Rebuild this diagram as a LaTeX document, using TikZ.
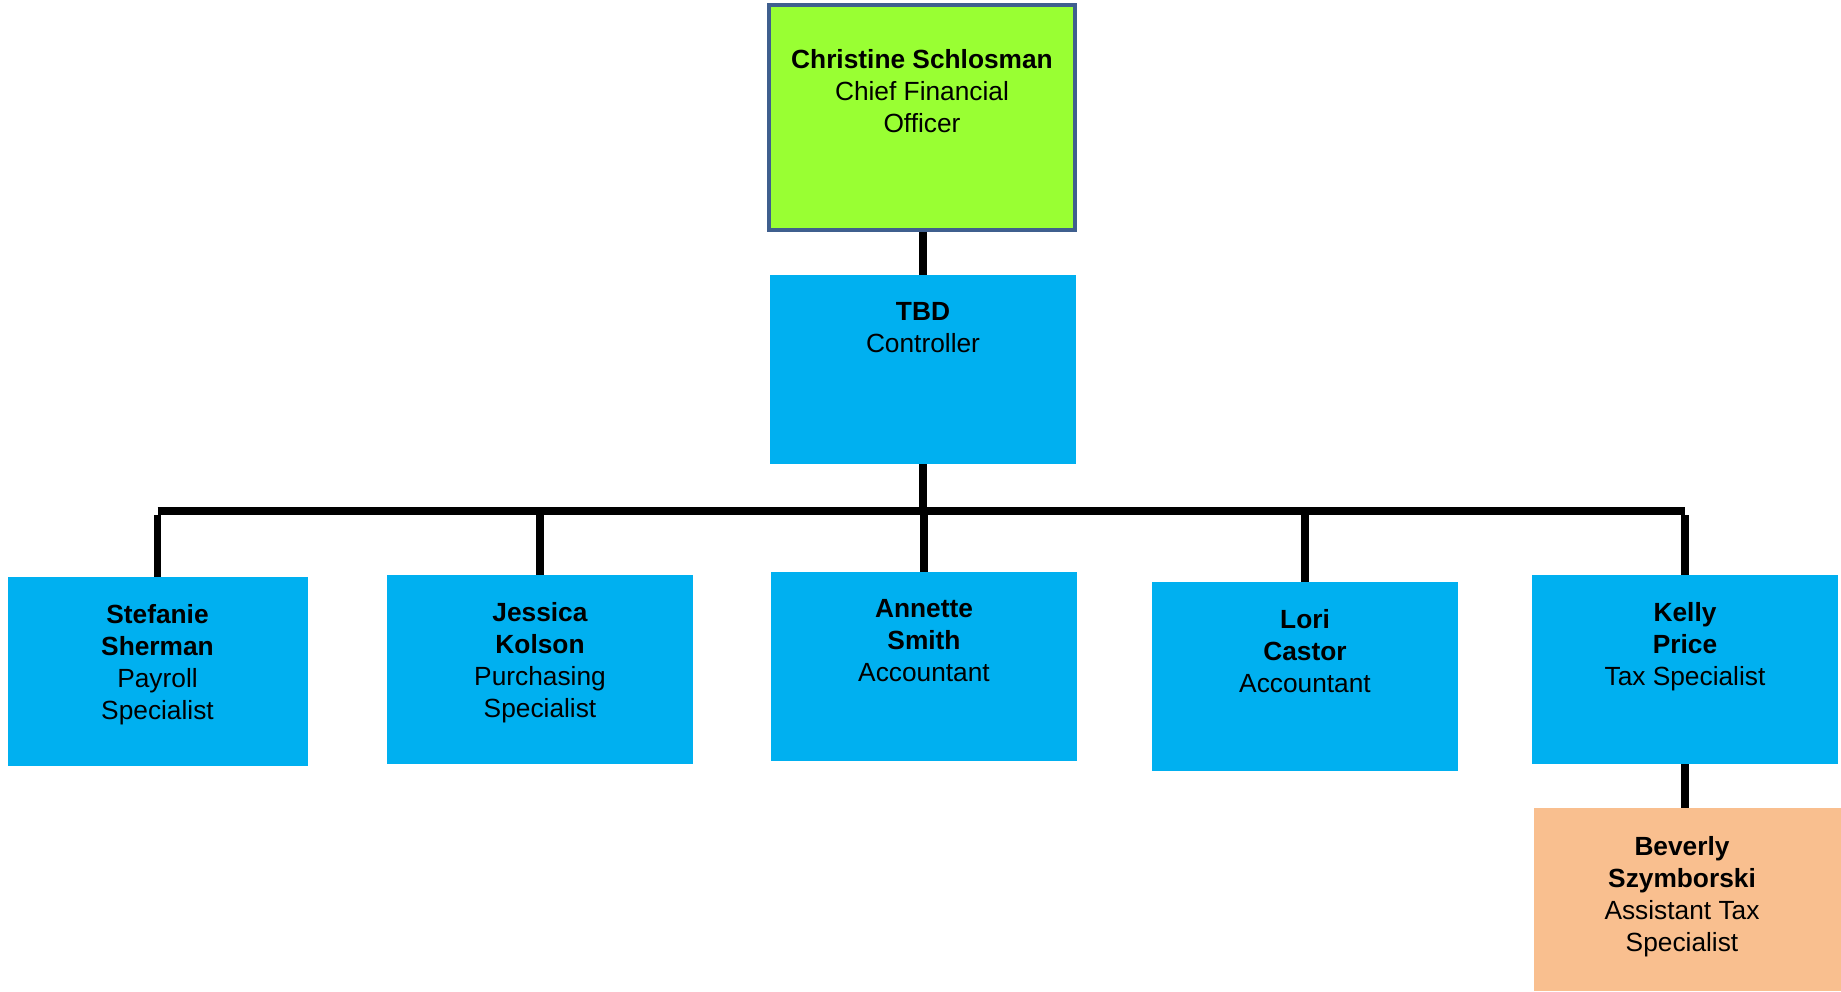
\documentclass[tikz,border=0pt]{standalone}
\usepackage{fontspec}
\setmainfont{Liberation Sans}
\definecolor{cfogreen}{HTML}{99FF33}
\definecolor{cfoedge}{HTML}{3F5F8E}
\definecolor{staffblue}{HTML}{00B0F0}
\definecolor{asstorange}{HTML}{F9BF8F}
\begin{document}
\begin{tikzpicture}[x=1pt,y=-1pt,
  box/.style={rectangle,inner sep=0pt,outer sep=0pt,minimum width=306pt,minimum height=189pt,fill=staffblue},
  txt/.style={anchor=north,inner sep=0pt,outer sep=0pt,align=center,font={\fontsize{26.3pt}{32pt}\selectfont}},
  conn/.style={line width=7.5pt,black},
  busline/.style={line width=8pt,black}]
\useasboundingbox (0,0) rectangle (1841,991);
% boxes
\node[box,fill=cfogreen,draw=cfoedge,line width=4pt,minimum height=225pt] (cfo) at (922,117.5) {};
\node[box] (tbd) at (923,369.5) {};
\node[box,minimum width=300pt] (stef) at (157.5,671.5) {};
\node[box] (jess) at (540,669.5) {};
\node[box] (ann) at (924,666.5) {};
\node[box] (lori) at (1305,676.5) {};
\node[box] (kelly) at (1685,669.5) {};
\node[box,fill=asstorange,minimum width=307pt,minimum height=183pt] (bev) at (1687.5,899.5) {};
% texts
\node[txt] (cfo-t) at ([yshift=-44pt]cfo.north) {\textbf{Christine Schlosman}\\Chief Financial\\Officer};
\node[txt] (tbd-t) at ([yshift=-27pt]tbd.north) {\textbf{TBD}\\Controller};
\node[txt] (stef-t) at ([yshift=-27pt]stef.north) {\textbf{Stefanie}\\\textbf{Sherman}\\Payroll\\Specialist};
\node[txt] (jess-t) at ([yshift=-27pt]jess.north) {\textbf{Jessica}\\\textbf{Kolson}\\Purchasing\\Specialist};
\node[txt] (ann-t) at ([yshift=-27pt]ann.north) {\textbf{Annette}\\\textbf{Smith}\\Accountant};
\node[txt] (lori-t) at ([yshift=-27pt]lori.north) {\textbf{Lori}\\\textbf{Castor}\\Accountant};
\node[txt] (kelly-t) at ([yshift=-27pt]kelly.north) {\textbf{Kelly}\\\textbf{Price}\\Tax Specialist};
\node[txt] (bev-t) at ([xshift=-5.5pt,yshift=-28pt]bev.north) {\textbf{Beverly}\\\textbf{Szymborski}\\Assistant Tax\\Specialist};
% connectors
\coordinate (bus) at (923,511);
\draw[conn] ([yshift=-2pt]tbd.north |- cfo.south) -- (tbd.north);
\draw[conn] (tbd.south) -- (tbd.south |- bus);
\draw[busline] (stef.north |- bus) -- (kelly.north |- bus);
\draw[conn] (stef.north) -- ([yshift=-4pt]stef.north |- bus);
\draw[conn] (jess.north) -- (jess.north |- bus);
\draw[conn] (ann.north) -- (ann.north |- bus);
\draw[conn] (lori.north) -- (lori.north |- bus);
\draw[conn] (kelly.north) -- ([yshift=-4pt]kelly.north |- bus);
\draw[conn] (kelly.south) -- (kelly.south |- bev.north);
\end{tikzpicture}
\end{document}
